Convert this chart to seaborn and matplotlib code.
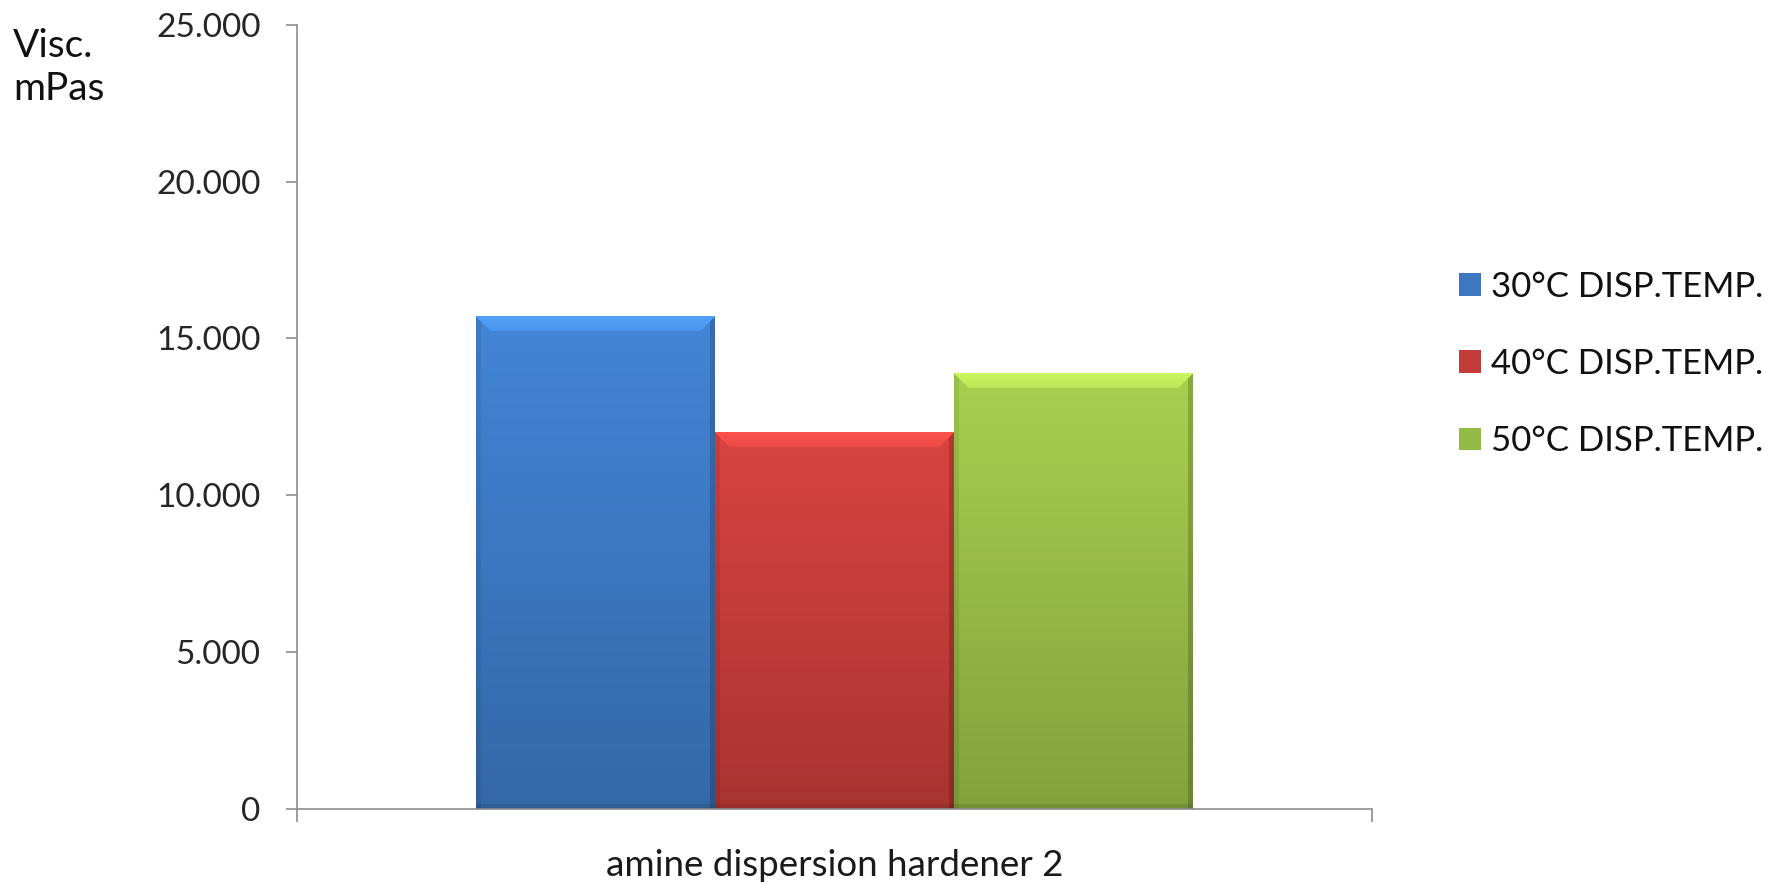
import numpy as np
import pandas as pd
import matplotlib
matplotlib.use("Agg")
import matplotlib.pyplot as plt
import matplotlib.colors as mcolors
from matplotlib.ticker import FixedLocator
import seaborn as sns

# Data
categories = ["amine dispersion hardener 2"]
series = ["30°C DISP.TEMP.", "40°C DISP.TEMP.", "50°C DISP.TEMP."]
viscosity = [15700, 12000, 13900]
yticks = [0, 5000, 10000, 15000, 20000, 25000]
ytick_labels = ["0", "5.000", "10.000", "15.000", "20.000", "25.000"]
palette = ["#3C77C0", "#C23C39", "#96BA46"]

df = pd.DataFrame({
    "product": categories * len(series),
    "temp": series,
    "visc": viscosity,
})

sns.set_theme(style="white")
plt.rcParams["font.family"] = ["Lato", "DejaVu Sans"]

fig = plt.figure(figsize=(17.68, 8.84), dpi=100)
ax = fig.add_axes([0.1678, 0.0854, 0.6084, 0.8866])

sns.barplot(data=df, x="product", y="visc", hue="temp", palette=palette,
            width=0.666, gap=0, saturation=1, linewidth=0, errorbar=None,
            ax=ax)

ax.set_xlim(-0.5, 0.5)
ax.set_ylim(0, 25000)
fig.canvas.draw()


def shade(base, hpx, wpx):
    """Vertical gradient with a bevelled top edge, like a glossy office bar."""
    base = np.asarray(base)
    rows = np.arange(hpx)[:, None] * np.ones((1, wpx))
    cols = np.ones((hpx, 1)) * np.arange(wpx)[None, :]
    t = rows / max(hpx - 1, 1)
    factor = 1.12 - 0.25 * t
    img = base[None, None, :] * factor[..., None]
    # top bevel (trapezoid highlight)
    band = 15
    in_band = (rows < band) & (cols >= rows) & (cols <= wpx - 1 - rows)
    mix = 0.4 - 0.3 * (rows / band)
    light = np.clip(base * 1.45, 0, 1)
    hl = img * (1 - mix[..., None]) + light * mix[..., None] * 1.0
    hl = np.clip(hl * 1.08, 0, 1)
    img = np.where(in_band[..., None], hl, img)
    # side bevels
    side_l = (cols < 5) & ~in_band
    side_r = (cols > wpx - 6) & ~in_band
    img = np.where(side_l[..., None], img * 0.92, img)
    img = np.where(side_r[..., None], img * 0.82, img)
    # bottom edge
    bottom = rows > hpx - 6
    img = np.where(bottom[..., None], img * 0.9, img)
    return np.clip(img, 0, 1)


for bar in list(ax.patches):
    h = bar.get_height()
    if not np.isfinite(h) or h <= 0:
        continue
    x0, y0, w = bar.get_x(), bar.get_y(), bar.get_width()
    (px0, py0), (px1, py1) = ax.transData.transform([(x0, y0), (x0 + w, y0 + h)])
    wpx, hpx = int(round(px1 - px0)), int(round(py1 - py0))
    base = mcolors.to_rgb(bar.get_facecolor())
    img = shade(base, hpx, wpx)
    ax.imshow(img, extent=(x0, x0 + w, y0, y0 + h), origin="upper",
              aspect="auto", interpolation="bilinear",
              zorder=bar.get_zorder() + 0.1)

ax.set_xlim(-0.5, 0.5)
ax.set_ylim(0, 25000)
ax.set_aspect("auto")

# Axes styling
sns.despine(ax=ax, top=True, right=True)
spine_color = "#8C8C8C"
for side in ("left", "bottom"):
    ax.spines[side].set_color(spine_color)
    ax.spines[side].set_linewidth(1.2)

ax.set_yticks(yticks, ytick_labels)
ax.tick_params(axis="y", which="major", direction="out", length=8, width=1.2,
               color=spine_color, labelsize=24, labelcolor="#262626", pad=18,
               left=True)

ax.set_xticks([0], categories)
ax.xaxis.set_minor_locator(FixedLocator([-0.5, 0.5]))
ax.tick_params(axis="x", which="major", length=0, labelsize=26.5,
               labelcolor="#1a1a1a", pad=29)
ax.tick_params(axis="x", which="minor", direction="out", length=9, width=1.2,
               color=spine_color, bottom=True)

ax.set_xlabel("")
ax.set_ylabel("")
ax.grid(False)

# Unit label at the top left
fig.text(13 / 1768, 1 - 57 / 884, "Visc.", fontsize=28, color="#111111",
         ha="left", va="baseline")
fig.text(13 / 1768, 1 - 100 / 884, "mPas", fontsize=28, color="#111111",
         ha="left", va="baseline")

# Legend on the right
handles, labels = ax.get_legend_handles_labels()
if ax.get_legend() is not None:
    ax.get_legend().remove()
fig.legend(handles, labels, loc="center left",
           bbox_to_anchor=(1459 / 1768, 1 - 364 / 884), frameon=False,
           fontsize=25, handlelength=0.63, handleheight=0.63,
           handletextpad=0.3, labelspacing=1.3, borderpad=0,
           borderaxespad=0, labelcolor="#111111")

fig.savefig("out.png", dpi=100)
